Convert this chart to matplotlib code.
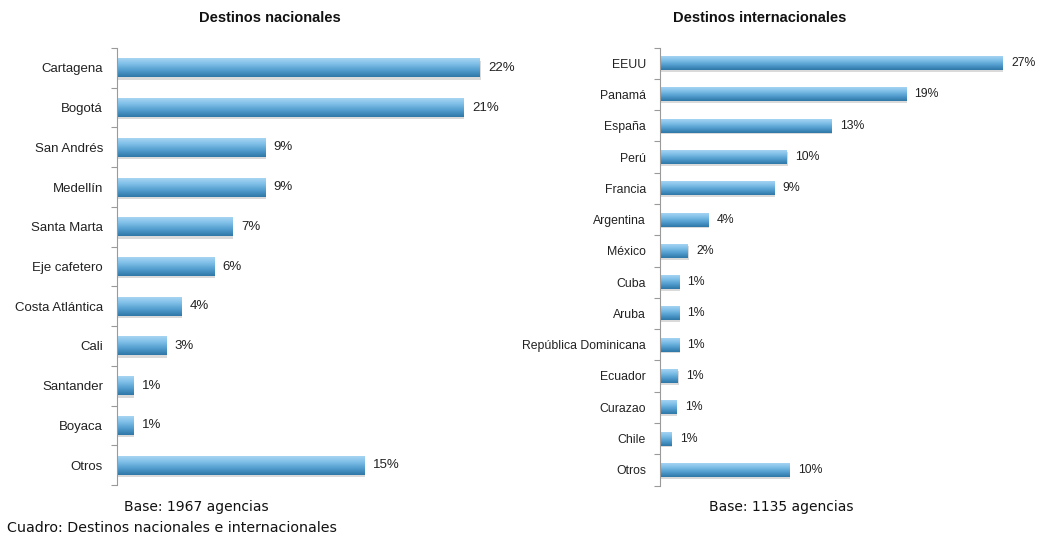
import numpy as np
import matplotlib
matplotlib.use("Agg")
import matplotlib.pyplot as plt
from matplotlib.colors import LinearSegmentedColormap

# data
nac_cats = ["Cartagena", "Bogotá", "San Andrés", "Medellín", "Santa Marta",
            "Eje cafetero", "Costa Atlántica", "Cali", "Santander", "Boyaca", "Otros"]
nac_vals = [22, 21, 9, 9, 7, 5.9, 3.9, 3, 1, 1, 15]
nac_labels = ["22%", "21%", "9%", "9%", "7%", "6%", "4%", "3%", "1%", "1%", "15%"]

int_cats = ["EEUU", "Panamá", "España", "Perú", "Francia", "Argentina", "México",
            "Cuba", "Aruba", "República Dominicana", "Ecuador", "Curazao", "Chile", "Otros"]
int_vals = [27, 19.4, 13.5, 10, 9, 3.8, 2.2, 1.5, 1.5, 1.5, 1.4, 1.3, 0.9, 10.2]
int_labels = ["27%", "19%", "13%", "10%", "9%", "4%", "2%", "1%", "1%", "1%", "1%",
              "1%", "1%", "10%"]

plt.rcParams['font.family'] = ['Liberation Sans', 'DejaVu Sans']

cmap = LinearSegmentedColormap.from_list(
    "bar", ["#add8f4", "#80c0e8", "#519dce", "#2e77a6"])
grad = np.linspace(0, 1, 64).reshape(-1, 1)


def draw_panel(ax, cats, vals, labels, xmax, height, fs):
    y = np.arange(len(cats))
    bars = ax.barh(y, vals, height=height, color="none", edgecolor="none")
    for b in bars:
        x0, y0, w, h = b.get_x(), b.get_y(), b.get_width(), b.get_height()
        # soft shadow under bar
        ax.add_patch(plt.Rectangle((x0, y0 + h * 0.12), w + xmax * 0.002, h,
                                   color="#dadada", zorder=1, lw=0))
        im = ax.imshow(grad, extent=[x0, x0 + w, y0, y0 + h], origin="lower",
                       aspect="auto", cmap=cmap, zorder=2, interpolation="bicubic")
        im.set_clip_path(b)
    for yi, v, lab in zip(y, vals, labels):
        ax.annotate(lab, (v, yi), xytext=(6, 0), textcoords="offset points",
                    va="center", ha="left", fontsize=fs, color="#222222")
    ax.set_xlim(0, xmax)
    ax.set_ylim(len(cats) - 0.5, -0.5)
    ax.set_yticks(y)
    ax.set_yticklabels(cats, fontsize=fs, color="#222222")
    ax.tick_params(axis="y", which="major", length=0, pad=10)
    ax.set_yticks(np.arange(len(cats) + 1) - 0.5, minor=True)
    ax.tick_params(axis="y", which="minor", length=4, color="#9a9a9a", width=0.8)
    ax.set_xticks([])
    for s in ["top", "right", "bottom"]:
        ax.spines[s].set_visible(False)
    ax.spines["left"].set_color("#9a9a9a")
    ax.spines["left"].set_linewidth(0.8)


fig = plt.figure(figsize=(10.39, 5.39), dpi=100)
ax1 = fig.add_axes([117 / 1039, 54 / 539, 396 / 1039, 437 / 539])
ax2 = fig.add_axes([660 / 1039, 53.5 / 539, 368 / 1039, 438 / 539])

draw_panel(ax1, nac_cats, nac_vals, nac_labels, 24, 0.48, 9.5)
draw_panel(ax2, int_cats, int_vals, int_labels, 29, 0.45, 8.8)

fig.text(270 / 1039, 1 - 18 / 539, "Destinos nacionales", ha="center", va="center",
         fontsize=10.5, fontweight="bold", color="#111111")
fig.text(760 / 1039, 1 - 18 / 539, "Destinos internacionales", ha="center", va="center",
         fontsize=10.5, fontweight="bold", color="#111111")
fig.text(196 / 1039, 1 - 507 / 539, "Base: 1967 agencias", ha="center", va="center",
         fontsize=10, family="DejaVu Sans", color="#111111")
fig.text(781 / 1039, 1 - 507 / 539, "Base: 1135 agencias", ha="center", va="center",
         fontsize=10, family="DejaVu Sans", color="#111111")
fig.text(7 / 1039, 1 - 528 / 539, "Cuadro: Destinos nacionales e internacionales",
         ha="left", va="center", fontsize=10.3, family="DejaVu Sans", color="#111111")

fig.savefig("out.png", dpi=100)
